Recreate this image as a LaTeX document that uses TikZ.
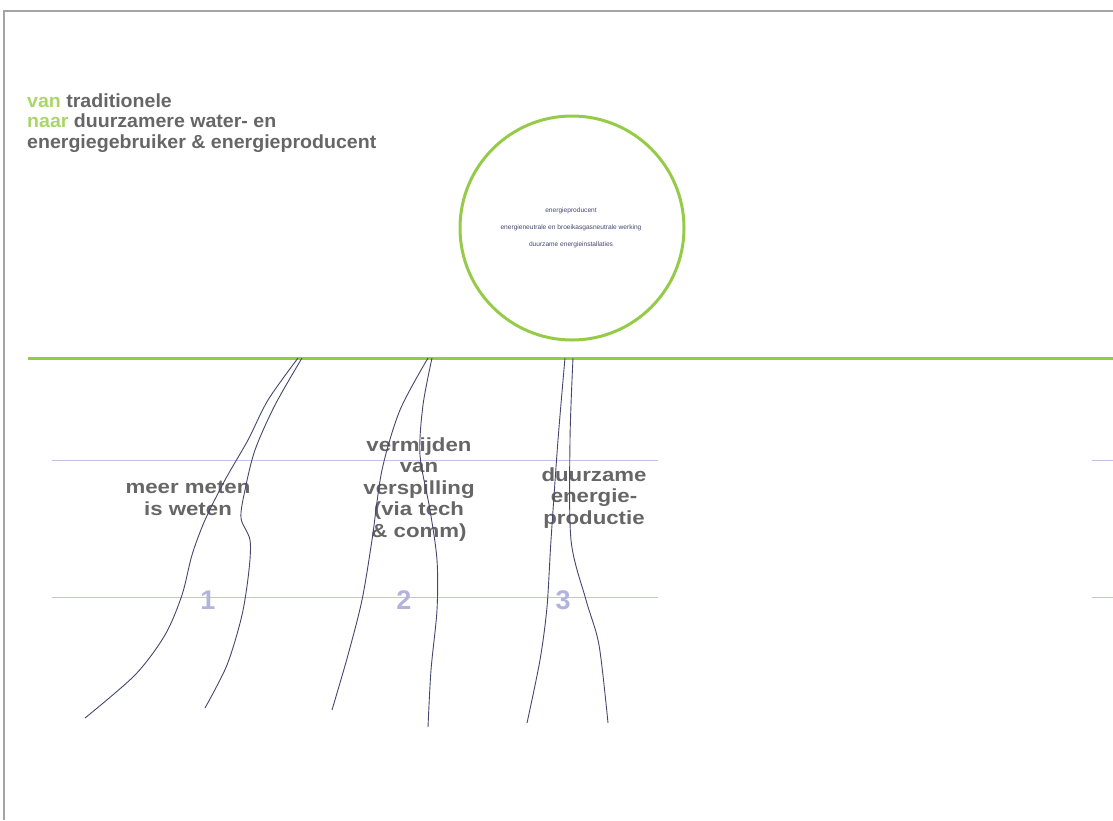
\documentclass[tikz,border=0pt]{standalone}
\usepackage{fontspec}
\setmainfont{Liberation Sans}
\newfontfamily\labfont[FakeStretch=1.17]{Liberation Sans}
\newfontfamily\headfont[FakeStretch=1.03]{Liberation Sans}
\definecolor{framegray}{HTML}{A4A4A4}
\definecolor{lgreen}{HTML}{96CB4A}
\definecolor{tgreen}{HTML}{A9D66A}
\definecolor{tgray}{HTML}{666666}
\definecolor{lav}{HTML}{C2C2E2}
\definecolor{numlav}{HTML}{B4B4DA}
\definecolor{navy}{HTML}{45456E}
\tikzset{
  frameline/.style={draw=framegray, line width=2pt},
  greenline/.style={draw=lgreen, line width=3pt},
  lavline/.style={draw=lav, line width=1pt},
  strand/.style={draw=navy, line width=0.9pt},
  header/.style={inner sep=0pt, anchor=base west, text=tgray, font=\headfont\fontsize{19}{21}\selectfont\bfseries},
  lab/.style={inner sep=0pt, anchor=base, align=center, text=tgray, font=\labfont\fontsize{19}{21.5}\selectfont\bfseries},
  num/.style={inner sep=0pt, text=numlav, font=\fontsize{27}{27}\selectfont\bfseries},
  circtext/.style={inner sep=0pt, text=navy, font=\fontsize{6.6}{8}\selectfont}
}
\begin{document}
\begin{tikzpicture}[x=1pt,y=-1pt]
\useasboundingbox (0,0) rectangle (1113,820);
% frame
\draw[frameline] (4,820) -- (4,11) -- (1113,11);
% header
\node[header] (h1) at (27,107) {\textcolor{tgreen}{van} traditionele};
\node[header] (h2) at (27,127.5) {\textcolor{tgreen}{naar} duurzamere water- en};
\node[header] (h3) at (27,148) {energiegebruiker \& energieproducent};
% circle
\node[draw=lgreen, line width=3pt, circle, minimum size=224pt, inner sep=0pt] (circ) at (572,228) {};
\node[circtext] (c1) at (571,211) {energieproducent};
\node[circtext] (c2) at (571,228) {energieneutrale en broeikasgasneutrale werking};
\node[circtext] (c3) at (571,245) {duurzame energieinstallaties};
% main green line
\draw[greenline] (28,358) -- (1113,358);
% lavender guides
\draw[lavline] (52,460) -- (658,460);
\draw[lavline] (52,597) -- (658,597);
\draw[lavline] (1092,460) -- (1113,460);
\draw[lavline] (1092,597) -- (1113,597);
% labels (anchor = baseline of last line)
\node[lab] (l1) at (188,515) {meer meten\\is weten};
\node[lab] (l2) at (419,537) {vermijden\\van\\verspilling\\(via tech\\\& comm)};
\node[lab] (l3) at (594,524) {duurzame\\energie-\\productie};
% numbers
\node[num] (n1) at (208,600) {1};
\node[num] (n2) at (404,600) {2};
\node[num] (n3) at (563,600) {3};
% strands
\draw[strand] plot[smooth] coordinates {(298,358) (268,400) (248,440) (225,480) (205,520) (192,555) (182,595) (165,635) (135,675) (85,718)};
\draw[strand] plot[smooth] coordinates {(302,358) (275,405) (255,450) (245,490) (241,518) (250,540) (249,570) (242,615) (227,665) (205,708)};
\draw[strand] plot[smooth] coordinates {(428,358) (400,410) (382,470) (372,540) (362,600) (348,655) (332,710)};
\draw[strand] plot[smooth] coordinates {(432,358) (423,405) (420,455) (430,510) (437,560) (437,610) (431,670) (428,727)};
\draw[strand] plot[smooth] coordinates {(565,358) (558,440) (551,540) (547,607) (540,660) (527,723)};
\draw[strand] plot[smooth] coordinates {(573,358) (570,440) (571,540) (586,600) (599,645) (608,723)};
\end{tikzpicture}
\end{document}
